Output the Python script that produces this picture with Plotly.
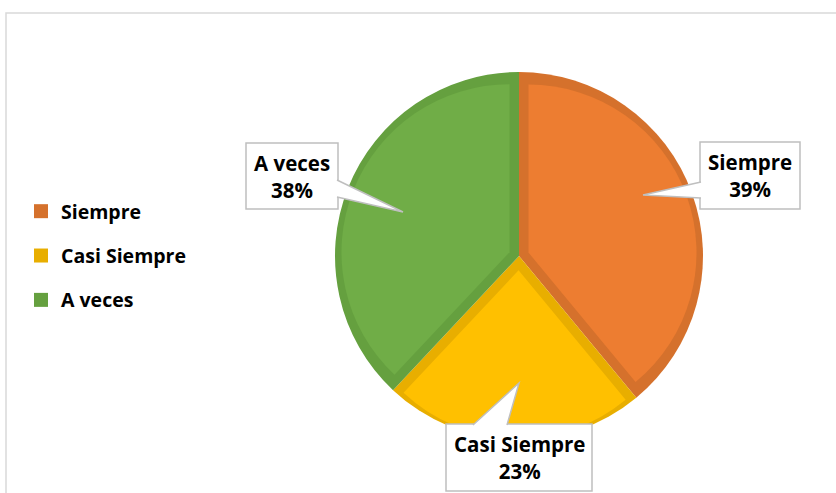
import math
import plotly.graph_objects as go

# ---- data ----
labels = ["Siempre", "Casi Siempre", "A veces"]
values = [39, 23, 38]

# ---- style ----
light_colors = ["#ED7D31", "#FFC000", "#70AD47"]
dark_colors = ["#D5712C", "#E8AE00", "#65A03F"]
W, H = 836, 493
FONT = "Open Sans"

def X(px):
    return px / W

def Y(py):
    return 1 - py / H

cx, cy, R = 519, 256, 184
rim = 9.5

total = sum(values)
fracs = [v / total for v in values]

# inner (light) pie: pulled apart so the dark pie below shows as a rim
rB = 168
pulls = [rim / (rB * math.sin(math.pi * f)) for f in fracs]
maxpull = max(pulls)
RB_dom = rB * (1 + maxpull)

fig = go.Figure()

fig.add_trace(go.Pie(
    labels=labels, values=values, sort=False, direction="clockwise", rotation=0,
    marker=dict(colors=dark_colors, line=dict(width=0)),
    textinfo="none", hoverinfo="label+percent", showlegend=False,
    domain=dict(x=[X(cx - R), X(cx + R)], y=[Y(cy + R), Y(cy - R)]),
))
fig.add_trace(go.Pie(
    labels=labels, values=values, sort=False, direction="clockwise", rotation=0,
    marker=dict(colors=light_colors, line=dict(width=0)),
    pull=pulls,
    textinfo="none", hoverinfo="label+percent", showlegend=False,
    domain=dict(x=[X(cx - RB_dom), X(cx + RB_dom)], y=[Y(cy + RB_dom), Y(cy - RB_dom)]),
))

# legend entries
for lab, col in zip(labels, dark_colors):
    fig.add_trace(go.Scatter(
        x=[None], y=[None], mode="markers", name=lab, legendgroup=lab,
        marker=dict(symbol="square", size=14, color=col),
    ))

shapes = []
annotations = []
# frame
shapes.append(dict(type="rect", xref="paper", yref="paper",
                   x0=X(6), x1=X(W + 10), y0=Y(H + 10), y1=Y(13),
                   line=dict(color="#D9D9D9", width=1.5), fillcolor="rgba(0,0,0,0)", layer="below"))

# callouts: box (x0, y0, x1, y1), pointer base points and tip
callouts = [
    dict(box=(700, 142, 800, 209), b1=(701, 182), b2=(701, 198), tip=(643, 195)),
    dict(box=(446, 424, 592, 491), b1=(473, 425), b2=(507, 425), tip=(519, 383)),
    dict(box=(246, 143, 338, 209), b1=(337, 180), b2=(337, 197), tip=(403, 212)),
]
line_col = "#BFBFBF"
for lab, f, c in zip(labels, fracs, callouts):
    x0, y0, x1, y1 = c["box"]
    shapes.append(dict(type="rect", xref="paper", yref="paper",
                       x0=X(x0), x1=X(x1), y0=Y(y1), y1=Y(y0),
                       line=dict(color=line_col, width=1.5), fillcolor="white"))
    (ax, ay), (bx, by), (tx, ty) = c["b1"], c["b2"], c["tip"]
    shapes.append(dict(type="path", xref="paper", yref="paper",
                       path=f"M {X(ax)} {Y(ay)} L {X(tx)} {Y(ty)} L {X(bx)} {Y(by)} Z",
                       fillcolor="white", line=dict(width=0)))
    shapes.append(dict(type="path", xref="paper", yref="paper",
                       path=f"M {X(ax)} {Y(ay)} L {X(tx)} {Y(ty)} L {X(bx)} {Y(by)}",
                       line=dict(color=line_col, width=1.5)))
    annotations.append(dict(
        xref="paper", yref="paper", x=X((x0 + x1) / 2), y=Y((y0 + y1) / 2),
        xanchor="center", yanchor="middle",
        text=f"{lab}<br>{round(f * 100)}%", showarrow=False, align="center",
        font=dict(family=FONT, size=20.5, color="black", weight="bold"),
    ))

fig.update_layout(
    width=W, height=H,
    margin=dict(l=0, r=0, t=0, b=0),
    paper_bgcolor="white", plot_bgcolor="white",
    xaxis=dict(visible=False), yaxis=dict(visible=False),
    shapes=shapes, annotations=annotations,
    showlegend=True,
    legend=dict(x=X(21), y=Y(256), xanchor="left", yanchor="middle",
                font=dict(family=FONT, size=19.5, color="black", weight="bold"),
                tracegroupgap=16, bgcolor="rgba(0,0,0,0)"),
)

fig.write_html("out.html", config={"displayModeBar": False},
               post_script="document.body.style.margin='0';document.body.style.overflow='hidden';")
